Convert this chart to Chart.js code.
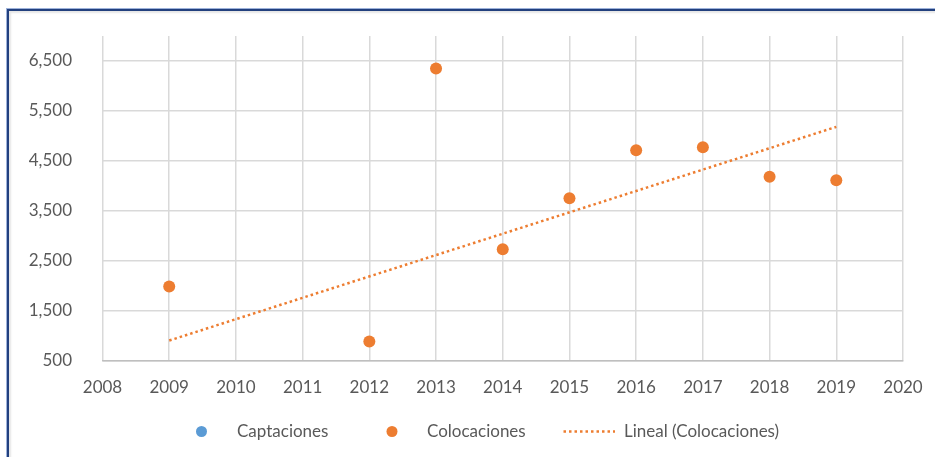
<!DOCTYPE html>
<html><head><meta charset="utf-8">
<script src="https://cdn.jsdelivr.net/npm/chart.js@4.4.1/dist/chart.umd.min.js"></script>
<style>
html,body{margin:0;padding:0;background:#fff;}
#wrap{position:relative;width:935px;height:457px;overflow:hidden;background:#fff;}
#frame{position:absolute;left:7px;top:9px;width:940px;height:460px;border-top:2px solid #22407E;border-left:2px solid #22407E;box-sizing:border-box;box-shadow:-1px -1px 0 #9DB2DA, inset 2px 2px 2px rgba(0,0,0,0.10);}
canvas{position:absolute;left:0;top:0;}
</style></head><body>
<div id="wrap"><div id="frame"></div><canvas id="c" width="935" height="457"></canvas></div>
<script>
// ---- data ----
const years = [2009, 2012, 2013, 2014, 2015, 2016, 2017, 2018, 2019];
const colocaciones = [1980, 880, 6350, 2730, 3750, 4710, 4770, 4180, 4110];
const captaciones = [];
const trendYears = [2009, 2019];
const trendValues = [900, 5180];
const xTicks = [2008, 2009, 2010, 2011, 2012, 2013, 2014, 2015, 2016, 2017, 2018, 2019, 2020];
const yTicks = [500, 1500, 2500, 3500, 4500, 5500, 6500];
const seriesNames = ['Captaciones', 'Colocaciones', 'Lineal (Colocaciones)'];

const BLUE = '#5B9BD5', ORANGE = '#ED7D31', TXT = '#595959', GRID = '#D9D9D9';
const FONT = {family: 'Lato, "Liberation Sans", sans-serif', size: 17};

const legendLayout = {y: 431.5, marker: [201.5, 392, 563.5], lineEnd: 615, text: [237, 427, 624]};

const legendPlugin = {
  id: 'excelLegend',
  afterDraw(chart) {
    const ctx = chart.ctx;
    const ds = chart.data.datasets;
    ctx.save();
    ctx.font = FONT.size + 'px ' + FONT.family;
    ctx.textBaseline = 'middle';
    ctx.textAlign = 'left';
    ds.forEach((d, i) => {
      const y = legendLayout.y;
      if (d.type === 'line') {
        ctx.strokeStyle = d.borderColor;
        ctx.lineWidth = d.borderWidth;
        ctx.setLineDash(d.borderDash);
        ctx.beginPath();
        ctx.moveTo(legendLayout.marker[i], y);
        ctx.lineTo(legendLayout.lineEnd, y);
        ctx.stroke();
        ctx.setLineDash([]);
      } else {
        ctx.fillStyle = d.backgroundColor;
        ctx.beginPath();
        ctx.arc(legendLayout.marker[i], y, 5.5, 0, Math.PI * 2);
        ctx.fill();
      }
      ctx.fillStyle = TXT;
      ctx.fillText(d.label, legendLayout.text[i], y);
    });
    ctx.restore();
  }
};

new Chart(document.getElementById('c'), {
  type: 'scatter',
  data: {
    datasets: [
      {label: seriesNames[0], data: captaciones, backgroundColor: BLUE, borderColor: BLUE, pointRadius: 6, borderWidth: 0},
      {label: seriesNames[1], data: years.map((x, i) => ({x: x, y: colocaciones[i]})), backgroundColor: ORANGE, borderColor: ORANGE, pointRadius: 6, borderWidth: 0},
      {label: seriesNames[2], type: 'line', data: trendYears.map((x, i) => ({x: x, y: trendValues[i]})), borderColor: ORANGE, backgroundColor: ORANGE, borderWidth: 2.5, borderDash: [2.5, 3], pointRadius: 0, fill: false, showLine: true}
    ]
  },
  options: {
    responsive: false,
    animation: false,
    devicePixelRatio: 1,
    layout: {padding: {top: 36, right: 32, bottom: 56.5, left: 0}},
    plugins: {legend: {display: false}, tooltip: {enabled: false}},
    scales: {
      x: {
        type: 'linear', position: 'bottom', min: 2008, max: 2020,
        afterBuildTicks: s => { s.ticks = xTicks.map(v => ({value: v})); },
        afterFit: s => { s.height = 40; s.paddingLeft = 0; s.paddingRight = 0; },
        ticks: {callback: v => String(v), color: TXT, font: FONT, padding: 17, maxRotation: 0, autoSkip: false},
        grid: {color: GRID, lineWidth: 1.5, drawTicks: false},
        border: {color: '#BFBFBF', width: 1.5}
      },
      y: {
        min: 500, max: 7000,
        afterBuildTicks: s => { s.ticks = yTicks.map(v => ({value: v})); },
        afterFit: s => { s.width = 102.5; s.paddingTop = 0; s.paddingBottom = 0; },
        ticks: {callback: v => v.toLocaleString('en-US'), color: TXT, font: FONT, padding: 30.5},
        grid: {color: GRID, lineWidth: 1.5, drawTicks: false},
        border: {display: false}
      }
    }
  },
  plugins: [legendPlugin]
});
</script>
</body></html>
